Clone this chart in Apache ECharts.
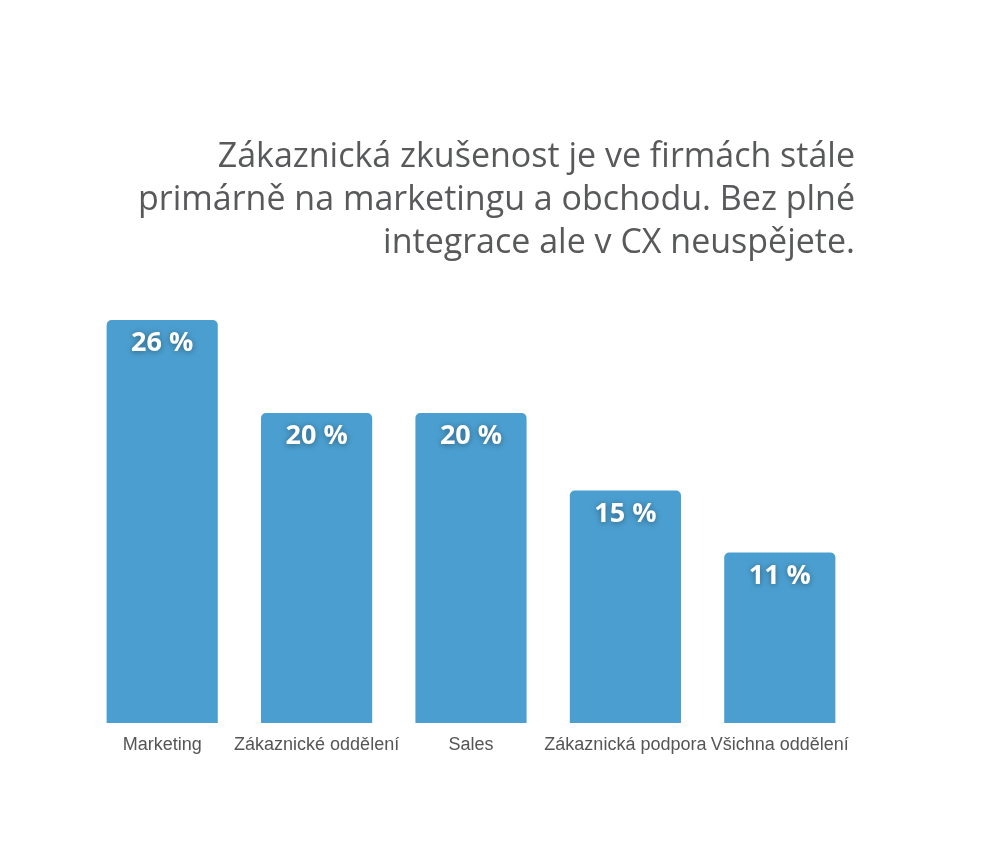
<!DOCTYPE html>
<html>
<head>
<meta charset="utf-8">
<script src="https://cdn.jsdelivr.net/npm/echarts@6/dist/echarts.min.js"></script>
<style>html,body{margin:0;padding:0;background:#fff}#c{width:1000px;height:861px}</style>
</head>
<body>
<div id="c"></div>
<script>
const categories = ['Marketing', 'Zákaznické oddělení', 'Sales', 'Zákaznická podpora', 'Všichna oddělení'];
const values = [26, 20, 20, 15, 11];
const titleLines = ['Zákaznická zkušenost je ve firmách stále', 'primárně na marketingu a obchodu. Bez plné', 'integrace ale v CX neuspějete.'];

const chart = echarts.init(document.getElementById('c'));
chart.setOption({
  backgroundColor: '#fff',
  animation: false,
  graphic: titleLines.map((t, i) => ({
    type: 'text',
    x: 855,
    y: 157 + i * 43,
    style: {
      text: t,
      fill: '#58595b',
      font: '400 34px "Open Sans"',
      align: 'right',
      verticalAlign: 'middle'
    }
  })),
  grid: { left: 85, right: 143, top: 258, bottom: 138 },
  xAxis: {
    type: 'category',
    data: categories,
    axisLine: { show: false },
    axisTick: { show: false },
    axisLabel: { color: '#555', fontSize: 18, fontFamily: 'Liberation Sans', margin: 13, interval: 0 }
  },
  yAxis: { type: 'value', min: 0, max: 30, show: false, splitLine: { show: false } },
  series: [{
    type: 'bar',
    data: values,
    barWidth: '72%',
    itemStyle: { color: '#4b9fd0', borderRadius: [5, 5, 0, 0] },
    label: {
      show: true,
      position: 'insideTop',
      distance: 10,
      formatter: p => p.value + ' %',
      color: '#fff',
      fontSize: 27,
      fontWeight: 700,
      fontFamily: 'Open Sans',
      textShadowColor: 'rgba(0,0,0,0.4)',
      textShadowBlur: 6,
      textShadowOffsetY: 1
    }
  }]
});
</script>
</body>
</html>
